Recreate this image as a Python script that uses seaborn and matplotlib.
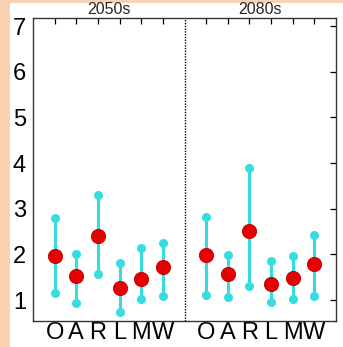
import matplotlib
matplotlib.use("Agg")
import matplotlib.pyplot as plt
from matplotlib.patches import Rectangle
import seaborn as sns
import pandas as pd

# Regions and periods
regions = ["O", "A", "R", "L", "M", "W"]
periods = ["2050s", "2080s"]

# Central estimate and range (low / high) for each region, per period
central_2050 = [1.96, 1.52, 2.41, 1.27, 1.46, 1.73]
low_2050 = [1.16, 0.93, 1.56, 0.73, 1.02, 1.09]
high_2050 = [2.79, 2.00, 3.31, 1.82, 2.13, 2.26]

central_2080 = [1.99, 1.58, 2.51, 1.34, 1.49, 1.79]
low_2080 = [1.12, 1.07, 1.31, 0.96, 1.02, 1.09]
high_2080 = [2.81, 1.98, 3.90, 1.86, 1.97, 2.42]

y_ticks = [1, 2, 3, 4, 5, 6, 7]

CYAN = "#35DCE0"
RED = "#E60000"
PEACH = "#F9D2B3"

rows = []
for p_idx, (period, cen, lo, hi) in enumerate(
        [(periods[0], central_2050, low_2050, high_2050),
         (periods[1], central_2080, low_2080, high_2080)]):
    for r_idx, reg in enumerate(regions):
        rows.append(dict(period=period, region=reg, pos=1 + r_idx + 7 * p_idx,
                         central=cen[r_idx], low=lo[r_idx], high=hi[r_idx]))
df = pd.DataFrame(rows)

sns.set_style("white")
plt.rcParams["font.family"] = ["Liberation Sans", "DejaVu Sans"]

fig = plt.figure(figsize=(3.43, 3.47), dpi=100, facecolor=PEACH)
fig.patches.append(Rectangle((10 / 343, 0), 333 / 343, 344 / 347,
                             transform=fig.transFigure, facecolor="white",
                             edgecolor="none", zorder=-5))
ax = fig.add_axes([33 / 343, 1 - 321 / 347, 303 / 343, 303 / 347])
ax.set_facecolor("white")

# Range bars
ax.vlines(df["pos"], df["low"], df["high"], color=CYAN, lw=2.2, zorder=2)
ends = pd.concat([df[["pos", "low"]].rename(columns={"low": "val"}),
                  df[["pos", "high"]].rename(columns={"high": "val"})])
sns.scatterplot(data=ends, x="pos", y="val", ax=ax, color=CYAN, s=42,
                edgecolor=CYAN, linewidth=0, zorder=3, legend=False)
sns.scatterplot(data=df, x="pos", y="central", ax=ax, color=RED, s=105,
                edgecolor="#B80000", linewidth=0.6, zorder=4, legend=False)

# Divider between periods
ax.axvline(7, color="black", ls=(0, (1, 1)), lw=1.0, zorder=1)

ax.set_xlim(0, 14)
ax.set_ylim(0.54, 7.18)
ax.set_xticks(df["pos"])
ax.set_xticklabels(df["region"])
ax.set_yticks(y_ticks)
ax.set_yticklabels([str(v) for v in y_ticks])
ax.set_xlabel("")
ax.set_ylabel("")
ax.tick_params(direction="in", length=4, width=0.9, top=True, right=True,
               labelsize=17, colors="black", pad=1)
ax.tick_params(axis="y", pad=5)
for s in ax.spines.values():
    s.set_color("#333333")
    s.set_linewidth(1.0)

for i, period in enumerate(periods):
    ax.text(3.5 + 7 * i, 7.21, period, ha="center", va="bottom", fontsize=11.5)

fig.savefig("out.png", dpi=100, facecolor=PEACH)
